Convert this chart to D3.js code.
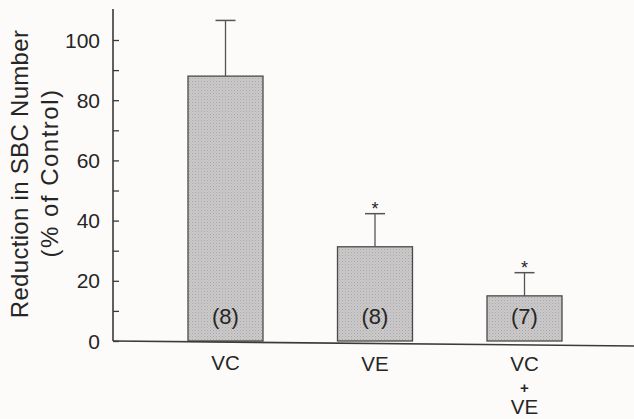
<!DOCTYPE html>
<html>
<head>
<meta charset="utf-8">
<script src="https://cdn.jsdelivr.net/npm/d3@7"></script>
<style>
  html, body { margin: 0; padding: 0; background: #fdfbf9; }
  svg { display: block; }
  text { font-family: "Liberation Sans", Arial, Helvetica, sans-serif; fill: #262626; }
</style>
</head>
<body>
<svg id="chart" width="634" height="419"></svg>
<script>
// Reduction in SBC number per treatment group
const categories = ["VC", "VE", "VC+VE"];
const means = [88, 31.3, 15];
const errors = [18.5, 11, 7.7];
const groupSizes = [8, 8, 7];
const significant = [false, true, true];
const categoryLines = [["VC"], ["VE"], ["VC", "+", "VE"]];
const yTicks = [0, 20, 40, 60, 80, 100];
const yMinorTicks = [10, 30, 50, 70, 90];

const svg = d3.select("#chart");
const ink = "#3a3a3a";

// Fine dotted texture for the bars
const defs = svg.append("defs");
const pat = defs.append("pattern")
  .attr("id", "stipple")
  .attr("width", 3).attr("height", 3)
  .attr("patternUnits", "userSpaceOnUse");
pat.append("rect").attr("width", 3).attr("height", 3).attr("fill", "#cbc9c9");
pat.append("rect").attr("x", 0).attr("y", 0).attr("width", 1).attr("height", 1).attr("fill", "#a9a7a7");
pat.append("rect").attr("x", 1.5).attr("y", 1.5).attr("width", 1).attr("height", 1).attr("fill", "#b4b2b2");

const axisX = 113;
const y = d3.scaleLinear().domain([0, 100]).range([341, 40]);
const x = d3.scalePoint().domain(categories).range([225.5, 524.5]);
const barW = 75;

// Y axis: major and minor ticks pointing inward
const yAxis = d3.axisRight(y)
  .tickValues(yTicks)
  .tickSize(6)
  .tickSizeOuter(0)
  .tickFormat(() => "");
const gy = svg.append("g").attr("transform", `translate(${axisX},0)`).call(yAxis);
gy.select(".domain").remove();
gy.selectAll(".tick line").attr("stroke", ink).attr("stroke-width", 1.3);

const yMinor = d3.axisRight(y).tickValues(yMinorTicks).tickSize(6).tickFormat(() => "");
const gym = svg.append("g").attr("transform", `translate(${axisX},0)`).call(yMinor);
gym.select(".domain").remove();
gym.selectAll(".tick line").attr("stroke", ink).attr("stroke-width", 1.3);

svg.append("line")
  .attr("x1", axisX).attr("x2", axisX)
  .attr("y1", y(110.3)).attr("y2", y(0))
  .attr("stroke", ink).attr("stroke-width", 1.6);

svg.append("g").selectAll("text")
  .data(yTicks).join("text")
  .attr("x", 100)
  .attr("y", d => y(d))
  .attr("dy", "0.36em")
  .attr("text-anchor", "end")
  .attr("font-size", 21)
  .text(d => d);

// Axis title, two lines
svg.append("text")
  .attr("transform", "translate(28,174) rotate(-90)")
  .attr("text-anchor", "middle").attr("font-size", 24)
  .attr("letter-spacing", 0.3)
  .text("Reduction in SBC Number");
svg.append("text")
  .attr("transform", "translate(58,173) rotate(-90)")
  .attr("text-anchor", "middle").attr("font-size", 24)
  .attr("letter-spacing", 1.5)
  .text("(% of Control)");

// Error bars (upper half only)
const eb = svg.append("g").selectAll("g")
  .data(categories).join("g");
eb.append("line")
  .attr("x1", d => x(d)).attr("x2", d => x(d))
  .attr("y1", (d, i) => y(means[i]))
  .attr("y2", (d, i) => y(means[i] + errors[i]))
  .attr("stroke", "#555").attr("stroke-width", 1.3);
eb.append("line")
  .attr("x1", d => x(d) - 10).attr("x2", d => x(d) + 10)
  .attr("y1", (d, i) => y(means[i] + errors[i]))
  .attr("y2", (d, i) => y(means[i] + errors[i]))
  .attr("stroke", "#555").attr("stroke-width", 1.5);

// Bars
svg.append("g").selectAll("rect")
  .data(categories).join("rect")
  .attr("x", d => x(d) - barW / 2)
  .attr("y", (d, i) => y(means[i]))
  .attr("width", barW)
  .attr("height", (d, i) => y(0) - y(means[i]))
  .attr("fill", "url(#stipple)")
  .attr("stroke", "#4a4a4a")
  .attr("stroke-width", 1.3);

// Group sizes inside bars
svg.append("g").selectAll("text")
  .data(categories).join("text")
  .attr("x", d => x(d))
  .attr("y", 316.5)
  .attr("dy", "0.36em")
  .attr("text-anchor", "middle")
  .attr("font-size", 22)
  .text((d, i) => `(${groupSizes[i]})`);

// Significance markers
svg.append("g").selectAll("text")
  .data(categories.filter((d, i) => significant[i])).join("text")
  .attr("x", d => x(d))
  .attr("y", d => { const i = categories.indexOf(d); return y(means[i] + errors[i]) + 1; })
  .attr("text-anchor", "middle")
  .attr("font-size", 18)
  .text("*");

// X axis baseline, drawn with the slight slant of the printed figure
svg.append("line")
  .attr("x1", axisX).attr("x2", 634)
  .attr("y1", y(0)).attr("y2", y(0) + 5)
  .attr("stroke", ink).attr("stroke-width", 1.6);

// Category labels
const labelY = [362.5, 364, 364];
const lineGap = 21.5;
svg.append("g").selectAll("text")
  .data(categories).join("text")
  .attr("x", d => x(d))
  .attr("y", (d, i) => labelY[i])
  .attr("text-anchor", "middle")
  .attr("font-size", 20.5)
  .each(function (d, i) {
    d3.select(this).selectAll("tspan")
      .data(categoryLines[i]).join("tspan")
      .attr("x", x(d))
      .attr("dy", (t, j) => j === 0 ? "0.36em" : lineGap)
      .attr("font-size", t => t === "+" ? 15 : 20.5)
      .attr("font-weight", t => t === "+" ? "bold" : "normal")
      .text(t => t);
  });
</script>
</body>
</html>
